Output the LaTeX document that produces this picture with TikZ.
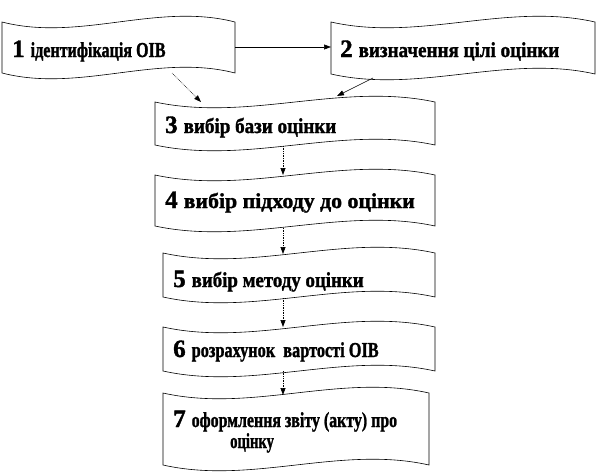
\documentclass[tikz,border=0pt]{standalone}
\usepackage{fontspec}
\setmainfont{Liberation Serif}[BoldFeatures={FakeBold=1.5}]
\usepackage{graphicx}
\usetikzlibrary{arrows.meta}
\newcommand{\wavepath}[5]{% x1,x2,ytop,ybottom,k
  \draw[boxline] (#1,#3) .. controls ({#1+(#2-#1)/3},{#3+#5}) and ({#1+2*(#2-#1)/3},{#3-#5}) .. (#2,#3)
    -- (#2,#4) .. controls ({#1+2*(#2-#1)/3},{#4-#5}) and ({#1+(#2-#1)/3},{#4+#5}) .. (#1,#4) -- cycle;}
\newcommand{\numfont}{\fontsize{25}{25}\selectfont}
\newcommand{\txtfont}{\fontsize{18.5}{18.5}\selectfont}
\newcommand{\steptext}[3]{{\numfont #1}\hspace{6pt}\scalebox{#2}[1.15]{\txtfont #3}}
\begin{document}
\begin{tikzpicture}[x=1pt,y=-1pt,
  boxline/.style={draw=black,line width=0.6pt},
  lbl/.style={inner sep=0pt,anchor=base west,font=\bfseries},
  solidarrow/.style={line width=0.6pt,-{Triangle[length=7pt,width=5pt]}},
  dotarrow/.style={line width=0.7pt,densely dotted,-{Triangle[length=7pt,width=5pt]}}]
\useasboundingbox (0,0) rectangle (598,474);
% boxes
\wavepath{2}{235}{22}{73}{20}
\wavepath{331}{595}{22}{74}{20}
\wavepath{155}{435}{102}{145}{20}
\wavepath{155}{435}{175}{226}{20}
\wavepath{163}{435}{253}{297}{20}
\wavepath{163}{435}{327}{371}{20}
\wavepath{163}{429}{393}{465}{20}
% texts
\node[lbl] (t1) at (12,57) {\steptext{1}{0.87}{ідентифікація ОІВ}};
\node[lbl] (t2) at (340,57) {\steptext{2}{1.03}{визначення цілі оцінки}};
\node[lbl] (t3) at (165,133) {\steptext{3}{1.03}{вибір бази оцінки}};
\node[lbl] (t4) at (165,208) {\steptext{4}{1.18}{вибір підходу до оцінки}};
\node[lbl] (t5) at (173,287) {\steptext{5}{1.02}{вибір методу оцінки}};
\node[lbl] (t6) at (173,357) {\steptext{6}{0.88}{розрахунок\ \ вартості ОІВ}};
\node[lbl] (t7) at (173,427) {\steptext{7}{0.86}{оформлення звіту (акту) про}};
\node[lbl] (t7b) at (230,448) {\scalebox{0.79}[1.15]{\txtfont оцінку}};
% connector end points
\coordinate (b1r) at (235,47);
\coordinate (b2l) at (331,47);
\coordinate (b1b) at (172,73);
\coordinate (b3t1) at (201,102);
\coordinate (b2b) at (373,78);
\coordinate (b3t2) at (337,96);
\coordinate (b3b) at (283,146);
\coordinate (b4t) at (283,175);
\coordinate (b4b) at (283,228);
\coordinate (b5t) at (283,254);
\coordinate (b5b) at (283,298);
\coordinate (b6t) at (283,327);
\coordinate (b6b) at (283,371);
\coordinate (b7t) at (283,395);
% connectors
\draw[solidarrow] (b1r) -- (b2l);
\draw[dotarrow] (b1b) -- (b3t1);
\draw[solidarrow] (b2b) -- (b3t2);
\draw[dotarrow] (b3b) -- (b4t);
\draw[dotarrow] (b4b) -- (b5t);
\draw[dotarrow] (b5b) -- (b6t);
\draw[dotarrow] (b6b) -- (b7t);
\end{tikzpicture}
\end{document}
